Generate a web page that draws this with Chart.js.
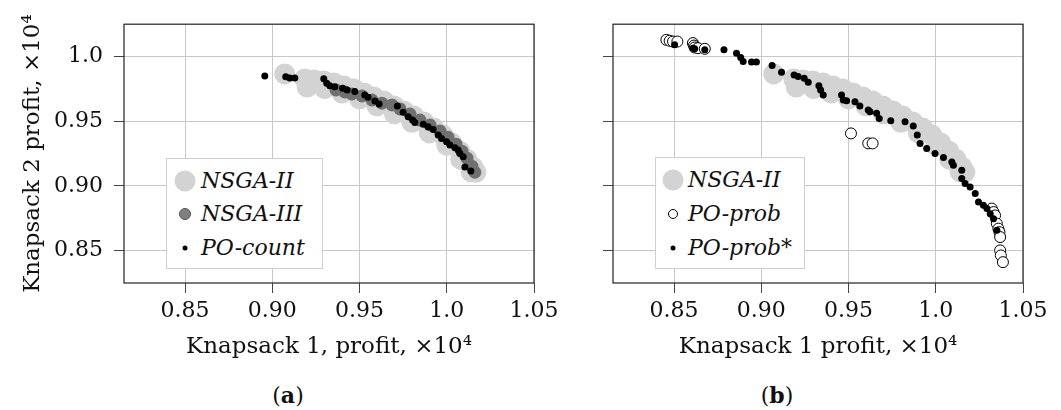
<!DOCTYPE html>
<html>
<head>
<meta charset="utf-8">
<script src="https://cdn.jsdelivr.net/npm/chart.js@4.4.1/dist/chart.umd.min.js"></script>
<style>
  body { margin:0; background:#fff; width:1061px; height:410px; overflow:hidden; position:relative; font-family:"DejaVu Serif", serif; color:#111; }
  canvas { position:absolute; top:0; }
  #chartA { left:0; }
  #chartB { left:540px; }
  .legend { position:absolute; background:#fff; border:1px solid #cfcfcf; box-sizing:border-box; }
  .mk { position:absolute; border-radius:50%; transform:translate(-50%,-50%); box-sizing:border-box; }
  .lab { position:absolute; font-style:italic; font-size:22px; line-height:1; transform:translateY(-50%); white-space:nowrap; }
  .cap { position:absolute; font-size:22px; transform:translate(-50%,-50%); }
</style>
</head>
<body>
<canvas id="chartA" width="580" height="372"></canvas>
<canvas id="chartB" width="521" height="372"></canvas>
<div class="cap" style="left:288px;top:395px">(<b>a</b>)</div>
<div class="cap" style="left:777px;top:395px">(<b>b</b>)</div>
<script>
// --- axes ---
const xMin = 0.815, xMax = 1.05;
const yMin = 0.825, yMax = 1.025;
const xTicks = [0.85, 0.90, 0.95, 1.0, 1.05];
const xTickLabels = ['0.85', '0.90', '0.95', '1.0', '1.05'];
const yTicks = [0.85, 0.90, 0.95, 1.0];
const yTickLabels = ['0.85', '0.90', '0.95', '1.0'];

// --- series (profits x 10^4) ---
const nsga2X = [0.9071,0.9186,0.9238,0.9295,0.9353,0.9410,0.9467,0.9525,0.9582,0.9639,0.9697,0.9754,0.9811,0.9868,0.9926,0.9978,1.0029,1.0075,1.0116,1.0150,1.0167,
                0.9200,0.9300,0.9400,0.9500,0.9600,0.9700,0.9800,0.9900,1.0000,1.0080,1.0140];
const nsga2Y = [0.9866,0.9827,0.9819,0.9812,0.9796,0.9773,0.9750,0.9719,0.9688,0.9657,0.9618,0.9580,0.9540,0.9494,0.9447,0.9393,0.9331,0.9269,0.9207,0.9145,0.9106,
                0.9765,0.9752,0.9718,0.9674,0.9620,0.9558,0.9492,0.9410,0.9315,0.9205,0.9110];

const nsga3X = [0.9365,0.9416,0.9456,0.9514,0.9571,0.9628,0.9686,0.9732,0.9789,0.9846,0.9904,0.9961,1.0007,1.0053,1.0087,1.0116,1.0144,1.0161];
const nsga3Y = [0.9742,0.9726,0.9711,0.9695,0.9664,0.9640,0.9626,0.9595,0.9556,0.9509,0.9471,0.9424,0.9377,0.9323,0.9269,0.9215,0.9153,0.9106];

const poCountX = [0.8957,0.9077,0.9100,0.9129,0.9295,0.9312,0.9330,0.9358,0.9403,0.9429,0.9473,0.9530,0.9549,0.9588,0.9612,0.9717,0.9750,0.9779,0.9804,0.9817,0.9865,0.9893,0.9922,0.9951,0.9970,0.9999,1.0018,1.0047,1.0065,1.0075,1.0094,1.0104,1.0138];
const poCountY = [0.9850,0.9843,0.9835,0.9835,0.9829,0.9794,0.9775,0.9767,0.9755,0.9742,0.9729,0.9703,0.9685,0.9657,0.9633,0.9618,0.9569,0.9535,0.9509,0.9491,0.9476,0.9457,0.9437,0.9393,0.9367,0.9341,0.9316,0.9295,0.9277,0.9251,0.9225,0.9147,0.9116];

const poProbX = [0.8456,0.8475,0.8494,0.8519,0.8608,0.8614,0.8618,0.8637,0.8676,0.9514,0.9613,0.9638,1.0321,1.0331,1.0340,1.0350,1.0359,1.0365,1.0369,1.0369,1.0373,1.0385];
const poProbY = [1.0129,1.0122,1.0116,1.0116,1.0104,1.0085,1.0070,1.0065,1.0060,0.9406,0.9329,0.9329,0.8825,0.8798,0.8772,0.8709,0.8670,0.8643,0.8605,0.8502,0.8463,0.8411];

const poProbStarX = [0.8503,0.8608,0.8618,0.8676,0.8786,0.8858,0.8882,0.8896,0.8944,0.8972,0.9062,0.9116,0.9188,0.9211,0.9246,0.9269,0.9330,0.9340,0.9355,0.9460,0.9470,0.9489,0.9537,0.9565,0.9613,0.9623,0.9661,0.9676,0.9742,0.9824,0.9871,0.9894,0.9910,0.9948,0.9996,1.0044,1.0092,1.0101,1.0149,1.0149,1.0168,1.0197,1.0226,1.0245,1.0273,1.0293,1.0312,1.0331,1.0350];
const poProbStarY = [1.0091,1.0065,1.0060,1.0052,1.0052,1.0026,0.9992,0.9961,0.9957,0.9957,0.9930,0.9879,0.9858,0.9845,0.9833,0.9802,0.9775,0.9742,0.9703,0.9703,0.9664,0.9659,0.9651,0.9618,0.9586,0.9574,0.9561,0.9522,0.9504,0.9496,0.9463,0.9393,0.9329,0.9290,0.9251,0.9220,0.9186,0.9160,0.9121,0.9057,0.9019,0.8992,0.8941,0.8876,0.8850,0.8825,0.8786,0.8747,0.8657];

const namesA = ['NSGA-II', 'NSGA-III', 'PO-count'];
const namesB = ['NSGA-II', 'PO-prob', 'PO-prob*'];

function pts(xs, ys) {
    return xs.map((x, i) => ({x: x, y: ys[i]}));
}

// styles des marqueurs
const styleNsga2 = {pointRadius:10.5, backgroundColor:'#d3d3d3', borderWidth:0};
const styleNsga3 = {pointRadius:6.5, backgroundColor:'#707070', borderWidth:0};
const styleDot = {pointRadius:3.5, backgroundColor:'#000', borderWidth:0};
const styleOpen = {pointRadius:5.5, backgroundColor:'#fff', borderColor:'#000', borderWidth:1};

// cadre noir autour de la zone de tracé
const framePlugin = {
    id: 'frame',
    afterDraw(chart) {
        const {ctx, chartArea: a} = chart;
        ctx.save();
        ctx.strokeStyle = '#222';
        ctx.lineWidth = 1.2;
        ctx.strokeRect(a.left, a.top, a.right - a.left, a.bottom - a.top);
        ctx.restore();
    }
};

const tickFont = {family:'DejaVu Serif', size:22};
const titleFont = {family:'DejaVu Serif', size:23};

function makeChart(id, datasets, o) {
    return new Chart(document.getElementById(id), {
        type: 'scatter',
        data: { datasets: datasets },
        options: {
            responsive: false,
            animation: false,
            events: [],
            layout: { padding: {top:24, right:o.padRight, left:0, bottom:0} },
            plugins: { legend: {display:false}, tooltip: {enabled:false} },
            scales: {
                x: {
                    type: 'linear', min: xMin, max: xMax,
                    afterBuildTicks: ax => { ax.ticks = xTicks.map(v => ({value: v})); },
                    afterFit: ax => { ax.height = 89; },
                    ticks: { callback: (v, i) => xTickLabels[i], font: tickFont, color:'#111', padding:5, maxRotation:0, autoSkip:false },
                    grid: { color:'#c8c8c8', lineWidth:1, tickLength:10, tickColor:'#444' },
                    border: { display:false },
                    title: { display:true, text:o.xTitle, font:titleFont, color:'#111', padding:{top:0, bottom:11} }
                },
                y: {
                    type: 'linear', min: yMin, max: yMax,
                    afterBuildTicks: ax => { ax.ticks = yTicks.map(v => ({value: v})); },
                    afterFit: ax => { ax.width = o.yWidth; },
                    ticks: { callback: (v, i) => o.yLabels ? yTickLabels[i] : '', font: tickFont, color:'#111', padding:11, autoSkip:false },
                    grid: { color:'#c8c8c8', lineWidth:1, tickLength:10, tickColor:'#444' },
                    border: { display:false },
                    title: { display: !!o.yTitle, text:o.yTitle || '', font:titleFont, color:'#111', padding:{top:19, bottom:0} }
                }
            }
        },
        plugins: [framePlugin]
    });
}

makeChart('chartA', [
    Object.assign({label:namesA[2], data:pts(poCountX, poCountY), order:0}, styleDot),
    Object.assign({label:namesA[1], data:pts(nsga3X, nsga3Y), order:1}, styleNsga3),
    Object.assign({label:namesA[0], data:pts(nsga2X, nsga2Y), order:2}, styleNsga2)
], {padRight:46, yWidth:124, yLabels:true, xTitle:'Knapsack 1, profit, ×10⁴', yTitle:'Knapsack 2 profit, ×10⁴'});

makeChart('chartB', [
    Object.assign({label:namesB[2], data:pts(poProbStarX, poProbStarY), order:0}, styleDot),
    Object.assign({label:namesB[1], data:pts(poProbX, poProbY), order:1}, styleOpen),
    Object.assign({label:namesB[0], data:pts(nsga2X, nsga2Y), order:2}, styleNsga2)
], {padRight:38, yWidth:73, yLabels:false, xTitle:'Knapsack 1 profit, ×10⁴'});

// --- légendes (HTML, par-dessus la zone de tracé) ---
function legend(box, names, markers) {
    const div = document.createElement('div');
    div.className = 'legend';
    div.style.left = box.left + 'px';
    div.style.top = box.top + 'px';
    div.style.width = box.w + 'px';
    div.style.height = box.h + 'px';
    names.forEach((n, i) => {
        const m = markers[i];
        const mk = document.createElement('div');
        mk.className = 'mk';
        mk.style.left = box.mx + 'px';
        mk.style.top = box.rows[i] + 'px';
        mk.style.width = mk.style.height = (2 * m.r) + 'px';
        mk.style.background = m.fill;
        if (m.stroke) mk.style.border = '1px solid ' + m.stroke;
        div.appendChild(mk);
        const lab = document.createElement('div');
        lab.className = 'lab';
        lab.style.left = box.tx + 'px';
        lab.style.top = box.rows[i] + 'px';
        lab.textContent = n;
        div.appendChild(lab);
    });
    document.body.appendChild(div);
}

legend({left:166, top:158, w:157, h:111, mx:18, tx:34, rows:[22, 55, 89]}, namesA, [
    {r:10.5, fill:'#d3d3d3'}, {r:6, fill:'#808080', stroke:'#555'}, {r:2.5, fill:'#000'}
]);
legend({left:655, top:157, w:150, h:112, mx:17, tx:32, rows:[22, 56, 90]}, namesB, [
    {r:10.5, fill:'#d3d3d3'}, {r:5, fill:'#fff', stroke:'#000'}, {r:2.5, fill:'#000'}
]);
</script>
</body>
</html>
